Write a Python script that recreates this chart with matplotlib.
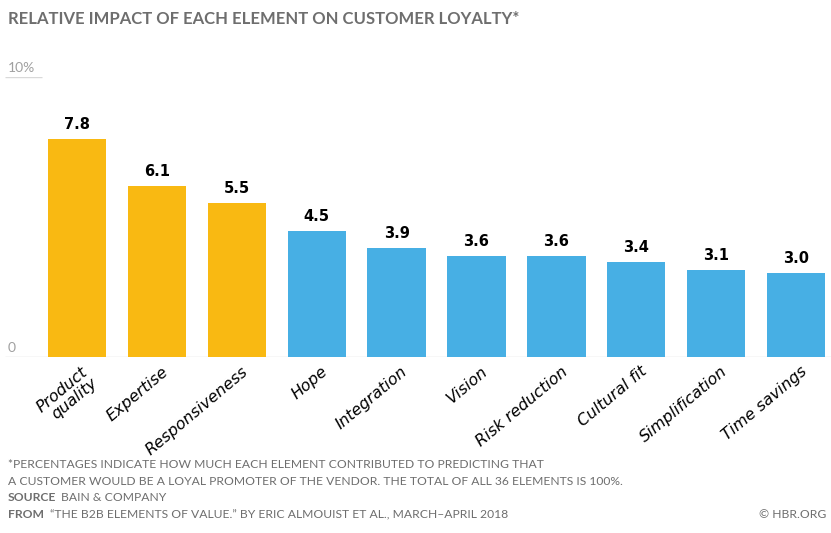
import matplotlib
matplotlib.use("Agg")
import matplotlib.pyplot as plt

plt.rcParams['font.family'] = ['Lato', 'DejaVu Sans']

categories = ['Product\nquality', 'Expertise', 'Responsiveness', 'Hope', 'Integration',
              'Vision', 'Risk reduction', 'Cultural fit', 'Simplification', 'Time savings']
values = [7.8, 6.1, 5.5, 4.5, 3.9, 3.6, 3.6, 3.4, 3.1, 3.0]
groups = ['top', 'top', 'top', 'rest', 'rest', 'rest', 'rest', 'rest', 'rest', 'rest']
y_ticks = [0, 10]
y_tick_labels = ['0', '10%']

YELLOW = '#F9B912'
BLUE = '#47AFE4'
GRAY = '#6E6E6E'

W, H = 831, 533
fig = plt.figure(figsize=(W / 100, H / 100), dpi=100)
ax = fig.add_axes([0, (H - 357) / H, 1, (357 - 77) / H])

px = 79.9  # pixels per category
x0 = 77
ax.set_xlim((0 - x0) / px, (W - x0) / px)
ax.set_ylim(0, 10)
ax.axis('off')

colors = [YELLOW if g == 'top' else BLUE for g in groups]
xs = list(range(len(values)))
ax.bar(xs, values, width=0.73, color=colors, zorder=2)

for x, v in zip(xs, values):
    ax.annotate(f'{v:.1f}', (x, v), xytext=(0, 5), textcoords='offset points',
                ha='center', va='bottom', fontsize=10.5, fontweight='bold',
                color='black', family='DejaVu Sans')

# baseline and short top rule
left = (5 - x0) / px
ax.hlines(0, left, (W - x0) / px, color='#D9D9D9', lw=1, zorder=1)
ax.hlines(10, left, (42 - x0) / px, color='#D9D9D9', lw=1, zorder=1)
for t, lab in zip(y_ticks, y_tick_labels):
    ax.annotate(lab, ((8 - x0) / px, t), xytext=(0, 2), textcoords='offset points',
                ha='left', va='bottom', fontsize=10, color='#A0A0A0')

for x, lab in zip(xs, categories):
    ax.annotate(lab, (x, 0), xytext=(3, -5), textcoords='offset points',
                ha='right', va='top', rotation=40, rotation_mode='anchor',
                fontsize=11.5, style='italic', color='black', linespacing=1.0,
                family='DejaVu Sans')

fig.text(8 / W, 1 - 24 / H, 'RELATIVE IMPACT OF EACH ELEMENT ON CUSTOMER LOYALTY*',
         fontsize=12, fontweight='bold', color=GRAY, ha='left', va='baseline')

fs = 8.75
foot_y = [468, 485, 501, 518]
fig.text(8 / W, 1 - foot_y[0] / H,
         '*PERCENTAGES INDICATE HOW MUCH EACH ELEMENT CONTRIBUTED TO PREDICTING THAT',
         fontsize=fs, color=GRAY, ha='left', va='baseline')
fig.text(8 / W, 1 - foot_y[1] / H,
         'A CUSTOMER WOULD BE A LOYAL PROMOTER OF THE VENDOR. THE TOTAL OF ALL 36 ELEMENTS IS 100%.',
         fontsize=fs, color=GRAY, ha='left', va='baseline')
fig.text(8 / W, 1 - foot_y[2] / H, 'SOURCE', fontsize=fs, fontweight='bold',
         color=GRAY, ha='left', va='baseline')
fig.text(61 / W, 1 - foot_y[2] / H, 'BAIN & COMPANY', fontsize=fs,
         color=GRAY, ha='left', va='baseline')
fig.text(8 / W, 1 - foot_y[3] / H, 'FROM', fontsize=fs, fontweight='bold',
         color=GRAY, ha='left', va='baseline')
fig.text(50 / W, 1 - foot_y[3] / H,
         '\u201cTHE B2B ELEMENTS OF VALUE.\u201d BY ERIC ALMOUIST ET AL., MARCH\u2013APRIL 2018',
         fontsize=fs, color=GRAY, ha='left', va='baseline')
fig.text(826 / W, 1 - foot_y[3] / H, '\u00a9 HBR.ORG', fontsize=fs,
         color=GRAY, ha='right', va='baseline')

fig.savefig('out.png', dpi=100)
